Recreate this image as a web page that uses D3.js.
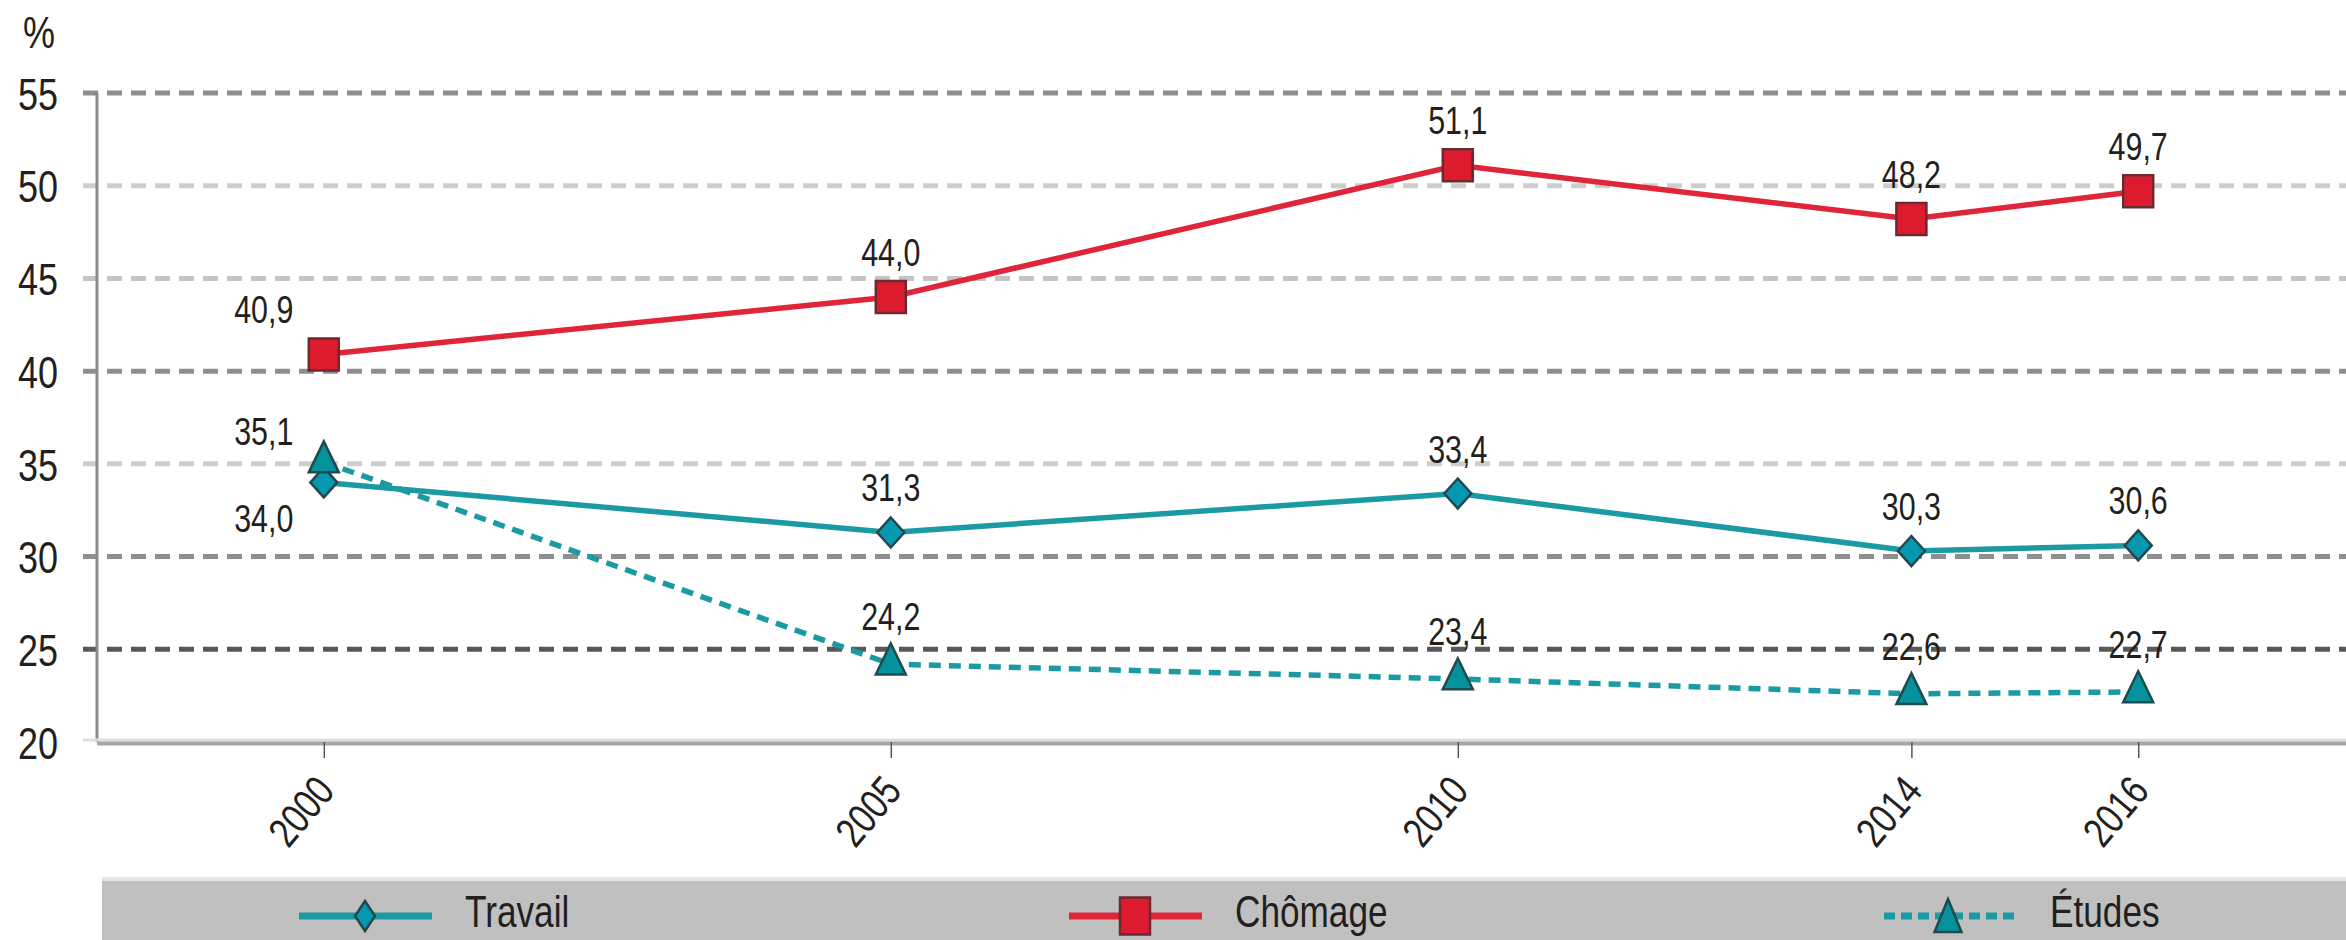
<!DOCTYPE html>
<html><head><meta charset="utf-8">
<script src="https://cdn.jsdelivr.net/npm/d3@7/dist/d3.min.js"></script>
<style>
html,body{margin:0;padding:0;background:#fff;}
svg text{font-family:"Liberation Sans Narrow","Arial Narrow","Liberation Sans",sans-serif;fill:#231f20;}
</style></head>
<body>
<svg id="chart" width="2346" height="940"></svg>
<script>
// ---- data ----
const years = [2000, 2005, 2010, 2014, 2016];
const travail = [34.0, 31.3, 33.4, 30.3, 30.6];
const chomage = [40.9, 44.0, 51.1, 48.2, 49.7];
const etudes  = [35.1, 24.2, 23.4, 22.6, 22.7];
const seriesNames = ["Travail", "Chômage", "Études"];
const yTicks = [20, 25, 30, 35, 40, 45, 50, 55];
const yUnit = "%";

// ---- layout ----
const W = 2346, H = 940;
const SX = 0.8; // horizontal condensation of the text face
const svg = d3.select("#chart");
const x = d3.scaleLinear().domain([1998, 2018]).range([97, 2365]);
const y = d3.scaleLinear().domain([20, 55]).range([742, 93]);
const fmt = v => d3.format(".1f")(v).replace(".", ",");

const gridColor = {55:"#8f8f8f",50:"#cdcdcd",45:"#c4c4c4",40:"#8f8f8f",35:"#cdcdcd",30:"#8f8f8f",25:"#595959"};

// grid
svg.append("g").selectAll("line").data(yTicks.filter(t => t > 20)).join("line")
  .attr("x1", 83).attr("x2", W)
  .attr("y1", d => y(d)).attr("y2", d => y(d))
  .attr("stroke", d => gridColor[d]).attr("stroke-width", 5)
  .attr("stroke-dasharray", "15,9");

// y axis line
svg.append("line").attr("x1", 97).attr("x2", 97).attr("y1", y(55)).attr("y2", y(20))
  .attr("stroke", "#8a8a8a").attr("stroke-width", 3);

// x axis
svg.append("line").attr("x1", 83).attr("x2", W).attr("y1", y(20) - 2).attr("y2", y(20) - 2)
  .attr("stroke", "#dedede").attr("stroke-width", 3);
svg.append("line").attr("x1", 97).attr("x2", W).attr("y1", y(20) + 1.5).attr("y2", y(20) + 1.5)
  .attr("stroke", "#a6a6a6").attr("stroke-width", 4);

const xAxis = d3.axisBottom(x).tickValues(years).tickSize(16).tickFormat(d3.format("d"));
const gx = svg.append("g").attr("transform", `translate(0,${y(20)})`).call(xAxis);
gx.select(".domain").remove();
gx.selectAll(".tick line").attr("stroke", "#555").attr("stroke-width", 1.5);
gx.selectAll(".tick text")
  .attr("font-size", 42).attr("fill", "#231f20")
  .attr("text-anchor", "end")
  .attr("transform", `translate(12,50) rotate(-50) scale(${SX},1)`)
  .attr("x", 0).attr("y", 0).attr("dy", 0);

// y axis labels
const yAxis = d3.axisLeft(y).tickValues(yTicks).tickSize(0).tickPadding(0);
const gy = svg.append("g").attr("transform", "translate(58,0)").call(yAxis);
gy.select(".domain").remove();
gy.selectAll(".tick text").attr("font-size", 45).attr("fill", "#231f20")
  .attr("x", 0).attr("dy", "0.36em").attr("transform", `scale(${SX},1)`);

svg.append("text").attr("transform", `translate(39,48) scale(${SX},1)`).attr("text-anchor", "middle")
  .attr("font-size", 45).text(yUnit);

// ---- marker shapes ----
function diamond(w, h){ return `M0,${-h/2}L${w/2},0L0,${h/2}L${-w/2},0Z`; }
function square(w, h){ return `M${-w/2},${-h/2}H${w/2}V${h/2}H${-w/2}Z`; }
function triangle(w, h){ return `M0,${-h*2/3}L${w/2},${h/3}L${-w/2},${h/3}Z`; }

const teal = "#1b9aa4", red = "#e0253a";
const series = [
  {name: seriesNames[0], values: travail, color: teal, dash: null, shape: diamond, fill: "#0499b0", stroke: "#24484d", mw: 27, mh: 30, lw: 20, lh: 30, gap: 31},
  {name: seriesNames[1], values: chomage, color: red, dash: null, shape: square, fill: "#dc1c2e", stroke: "#6a2a30", mw: 30, mh: 32, lw: 30, lh: 37, gap: 31},
  {name: seriesNames[2], values: etudes, color: teal, dash: "12,8", shape: triangle, fill: "#05929c", stroke: "#1f4a4e", mw: 30, mh: 31, lw: 27, lh: 33, gap: 34}
];
// label placement rule: first-year labels sit to the left of the point
const labelPlace = {
  "Travail": ["leftBelow", "above", "above", "above", "above"],
  "Chômage": ["leftAbove", "above", "above", "above", "above"],
  "Études":  ["leftAboveNear", "above", "above", "above", "above"]
};

const line = d3.line().x(d => x(d[0])).y(d => y(d[1]));
series.forEach(s => {
  const pts = years.map((yr, i) => [yr, s.values[i]]);
  svg.append("path").datum(pts).attr("d", line).attr("fill", "none")
    .attr("stroke", s.color).attr("stroke-width", 5.5)
    .attr("stroke-dasharray", s.dash);
});
series.forEach(s => {
  const pts = years.map((yr, i) => [yr, s.values[i]]);
  svg.append("g").selectAll("path").data(pts).join("path")
    .attr("d", s.shape(s.mw, s.mh))
    .attr("transform", d => `translate(${x(d[0])},${y(d[1])})`)
    .attr("fill", s.fill).attr("stroke", s.stroke).attr("stroke-width", 2.5);
  svg.append("g").selectAll("text").data(pts).join("text")
    .attr("font-size", 38).attr("text-anchor", "middle")
    .attr("transform", (d, i) => {
      const p = labelPlace[s.name][i];
      const lx = x(d[0]) + (p.startsWith("left") ? -60 : 0);
      let ly = y(d[1]) - s.gap;
      if (p === "leftAbove") ly = y(d[1]) - 31;
      if (p === "leftBelow") ly = y(d[1]) + 50;
      if (p === "leftAboveNear") ly = y(d[1]) - 17;
      return `translate(${lx},${ly}) scale(${SX},1)`;
    })
    .text(d => fmt(d[1]));
});

// ---- legend ----
svg.append("rect").attr("x", 102).attr("y", 877).attr("width", W - 102).attr("height", 4).attr("fill", "#e6e6e6");
svg.append("rect").attr("x", 102).attr("y", 881).attr("width", W - 102).attr("height", H - 881).attr("fill", "#c0c0c0");
const legendX = [299, 1069, 1884];
series.forEach((s, i) => {
  const g = svg.append("g").attr("transform", `translate(${legendX[i]},916)`);
  g.append("line").attr("x1", 0).attr("x2", 133).attr("stroke", s.color).attr("stroke-width", 7)
    .attr("stroke-dasharray", s.dash ? "11,6" : null);
  g.append("path").attr("d", s.shape(s.lw, s.lh)).attr("transform", `translate(${i === 2 ? 64 : 66},${i === 2 ? 5 : 0})`)
    .attr("fill", s.fill).attr("stroke", s.stroke).attr("stroke-width", 2.5);
  g.append("text").attr("transform", `translate(166,11) scale(${SX},1)`).attr("font-size", 44).text(s.name);
});
</script>
</body></html>
